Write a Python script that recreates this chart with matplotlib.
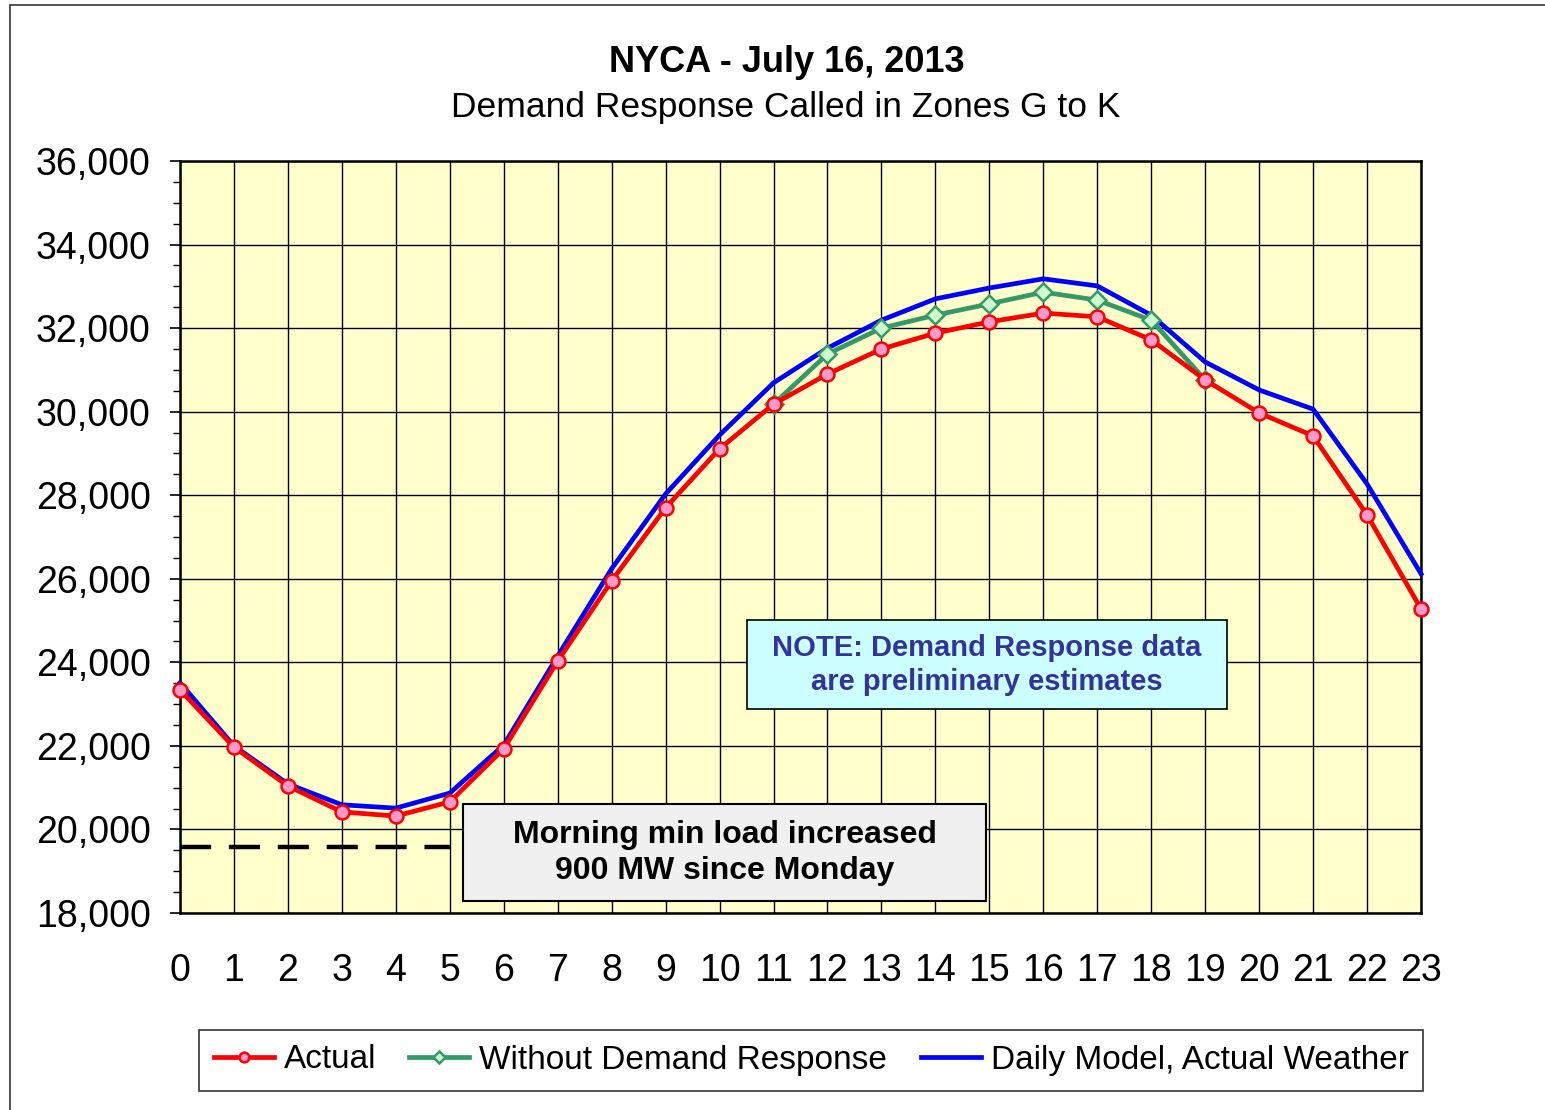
import numpy as np
import matplotlib
matplotlib.use("Agg")
import matplotlib.pyplot as plt
from matplotlib.patches import Rectangle
from matplotlib.ticker import MultipleLocator, FuncFormatter

plt.rcParams['font.family'] = ['Liberation Sans', 'DejaVu Sans']

# 数据：小时与负荷 (MW)
hours = list(range(24))
actual = [23340, 21970, 21040, 20420, 20320, 20660, 21930, 24030, 25950, 27700,
          29110, 30180, 30900, 31500, 31880, 32150, 32360, 32270, 31720, 30760,
          29970, 29420, 27530, 25280]
dr_hours = [11, 12, 13, 14, 15, 16, 17, 18, 19]
without_dr = [30180, 31380, 32000, 32310, 32580, 32860, 32670, 32190, 30760]
model = [23510, 22000, 21090, 20590, 20510, 20870, 22020, 24150, 26240, 28030,
         29440, 30690, 31520, 32190, 32700, 32960, 33180, 33010, 32310, 31190,
         30520, 30060, 28270, 26120]
min_hours = [0, 5]
min_load = [19580, 19580]

W, H = 1545, 1110
fig = plt.figure(figsize=(W / 100, H / 100), dpi=100)


def fx(px):
    return px / W


def fy(py):
    return 1 - py / H


# 外框
fig.patches.append(Rectangle((fx(10), -0.1), 1.2, fy(5) + 0.1,
                             transform=fig.transFigure, fill=False,
                             edgecolor="#333333", linewidth=1.2))

ax = fig.add_axes([fx(180), fy(913), fx(1421) - fx(180), fy(161) - fy(913)])
ax.set_facecolor("#FFFFCC")

ax.plot(hours, actual, '-o', color="#FF0000", lw=3.4, ms=10,
        markerfacecolor="#FF99CC", markeredgecolor="#FF0000", markeredgewidth=1.8,
        label="Actual", zorder=5, clip_on=False)
ax.plot(dr_hours, without_dr, '-D', color="#339966", lw=3.4, ms=9,
        markerfacecolor="#CCFFCC", markeredgecolor="#339966", markeredgewidth=1.8,
        label="Without Demand Response", zorder=4)
ax.plot(hours, model, '-', color="#0000FF", lw=3.4,
        label="Daily Model, Actual Weather", zorder=3, clip_on=False)
ax.plot(min_hours, min_load, '--', color="black", lw=3.2, dashes=(7, 4), zorder=3)

ax.set_xlim(0, 23)
ax.set_ylim(18000, 36000)
ax.set_xticks(hours)
ax.yaxis.set_major_locator(MultipleLocator(2000))
ax.yaxis.set_minor_locator(MultipleLocator(500))
ax.yaxis.set_major_formatter(FuncFormatter(lambda v, p: f"{int(v):,}"))
ax.grid(True, which="major", color="black", lw=1.0)
ax.set_axisbelow(True)
ax.tick_params(axis="y", which="major", length=7, width=1.2, labelsize=27, pad=14)
ax.tick_params(axis="y", which="minor", length=5, width=1.0)
ax.tick_params(axis="x", length=0, labelsize=27, pad=29)
for s in ax.spines.values():
    s.set_linewidth(1.8)

fig.text(fx(787), fy(62), "NYCA - July 16, 2013", ha="center", va="center",
         fontsize=26, fontweight="bold")
fig.text(fx(786), fy(108), "Demand Response Called in Zones G to K", ha="center",
         va="center", fontsize=25.5)

# 注释框
fig.patches.append(Rectangle((fx(747), fy(709)), fx(1227) - fx(747), fy(620) - fy(709),
                             transform=fig.transFigure, facecolor="#CCFFFF",
                             edgecolor="black", linewidth=1.2, zorder=6))
fig.text(fx(987), fy(665), "NOTE: Demand Response data\nare preliminary estimates",
         ha="center", va="center", fontsize=21, fontweight="bold",
         color="#333399", linespacing=1.25, zorder=7)

fig.patches.append(Rectangle((fx(463), fy(901)), fx(986) - fx(463), fy(804) - fy(901),
                             transform=fig.transFigure, facecolor="#F0F0F0",
                             edgecolor="black", linewidth=1.5, zorder=6))
fig.text(fx(725), fy(853), "Morning min load increased\n900 MW since Monday",
         ha="center", va="center", fontsize=23, fontweight="bold",
         color="black", linespacing=1.3, zorder=7)

leg = fig.legend(loc="center", bbox_to_anchor=(fx(811), fy(1060)),
                 ncol=3, fontsize=24, frameon=True, fancybox=False,
                 edgecolor="black", handlelength=1.8, handletextpad=0.3,
                 columnspacing=1.0, borderpad=0.45, markerscale=0.7)
leg.get_frame().set_linewidth(1.2)

fig.savefig("out.png", dpi=100)
